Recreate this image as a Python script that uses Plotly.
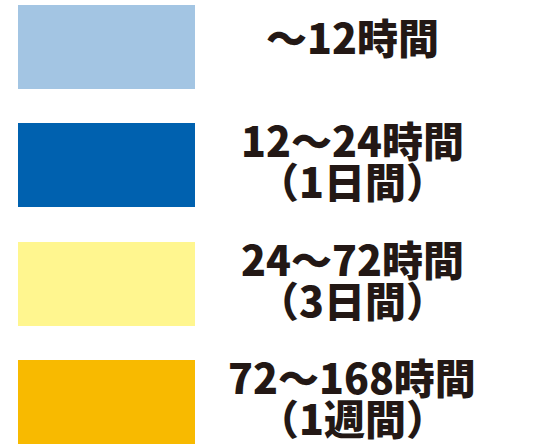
import plotly.graph_objects as go

# Legend categories (from the reference)
main_labels = ["～12時間", "12～24時間", "24～72時間", "72～168時間"]
sub_labels = ["", "（1日間）", "（3日間）", "（1週間）"]
colors = ["#A3C5E3", "#0061AF", "#FFF68F", "#F8BA00"]
swatch_value = [1, 1, 1, 1]

W, H = 546, 445
row_center = [46.8, 164.9, 283.9, 401.9]
sw_left, sw_right = 18, 195
sw_height = 83.5

fig = go.Figure()
fig.add_trace(go.Bar(
    y=row_center,
    x=[v * (sw_right - sw_left) for v in swatch_value],
    base=[sw_left] * len(swatch_value),
    orientation="h",
    width=[sw_height] * len(swatch_value),
    marker=dict(color=colors, line=dict(width=0)),
    hoverinfo="skip",
    showlegend=False,
))

text_x = 352
font = dict(family="Noto Sans CJK JP", size=41, color="#231815", weight=900)
for i, (m, s) in enumerate(zip(main_labels, sub_labels)):
    c = row_center[i]
    if s:
        y1, y2 = c - 26, c + 15
        fig.add_annotation(x=text_x, y=y1, text=m, showarrow=False, xanchor="center",
                           yanchor="middle", font=font)
        fig.add_annotation(x=text_x, y=y2, text=s, showarrow=False, xanchor="center",
                           yanchor="middle", font=font)
    else:
        fig.add_annotation(x=text_x, y=c - 11, text=m, showarrow=False, xanchor="center",
                           yanchor="middle", font=font)

fig.update_layout(
    width=W, height=H,
    margin=dict(l=0, r=0, t=0, b=0),
    paper_bgcolor="white", plot_bgcolor="white",
    xaxis=dict(range=[0, W], visible=False, fixedrange=True),
    yaxis=dict(range=[H, 0], visible=False, fixedrange=True),
    bargap=0,
)
fig.write_html("out.html", config={"displayModeBar": False},
               post_script="document.body.style.margin='0';")
